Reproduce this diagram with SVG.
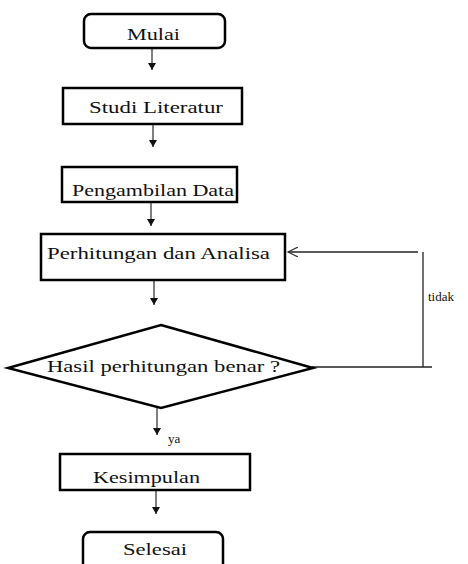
<svg xmlns="http://www.w3.org/2000/svg" width="468" height="564" viewBox="0 0 468 564">
<defs>
<style>
.box{fill:#fff;stroke:#000;stroke-width:2.5}
.t{font-family:"Liberation Serif","DejaVu Serif","Times New Roman",serif;font-size:16px;fill:#111}
.s{font-family:"Liberation Serif","DejaVu Serif","Times New Roman",serif;font-size:13px;fill:#111}
.ln{fill:none;stroke:#555;stroke-width:1.5}
.fb{fill:none;stroke:#222;stroke-width:1.3}
</style>
<marker id="ah" markerWidth="8" markerHeight="8" refX="7" refY="4" orient="auto" markerUnits="userSpaceOnUse">
<path d="M0,0 L7,4 L0,8 Z" fill="#111"/>
</marker>
<marker id="oa" markerWidth="12" markerHeight="10" refX="10" refY="5" orient="auto" markerUnits="userSpaceOnUse">
<path d="M0,0 L10,5 L0,10" fill="none" stroke="#333" stroke-width="1.2"/>
</marker>
</defs>
<rect width="468" height="564" fill="#fff"/>
<g id="connectors">
<line class="ln" x1="152" y1="48" x2="152" y2="70" marker-end="url(#ah)"/>
<line class="ln" x1="153" y1="124" x2="153" y2="147" marker-end="url(#ah)"/>
<line class="ln" x1="151" y1="202" x2="151" y2="226" marker-end="url(#ah)"/>
<line class="ln" x1="154" y1="281" x2="154" y2="305" marker-end="url(#ah)"/>
<line class="ln" x1="157" y1="408" x2="157" y2="435" marker-end="url(#ah)"/>
<line class="ln" x1="156" y1="490" x2="156" y2="514" marker-end="url(#ah)"/>
<line class="fb" x1="312" y1="367" x2="432" y2="367"/>
<line class="fb" x1="423" y1="367" x2="423" y2="252"/>
<line class="fb" x1="418" y1="252" x2="288" y2="252" marker-end="url(#oa)"/>
<text class="s" x="428" y="301">tidak</text>
<text class="s" x="168" y="443">ya</text>
</g>
<g id="mulai">
<rect class="box" x="84" y="14" width="141" height="34" rx="7"/>
<text class="t" x="127" y="40" textLength="53" lengthAdjust="spacingAndGlyphs">Mulai</text>
</g>
<g id="studi">
<rect class="box" x="63" y="88" width="179" height="36"/>
<text class="t" x="89" y="113" textLength="134" lengthAdjust="spacingAndGlyphs">Studi Literatur</text>
</g>
<g id="pengambilan">
<rect class="box" x="62" y="167" width="175" height="35"/>
<text class="t" x="72" y="196" textLength="162" lengthAdjust="spacingAndGlyphs">Pengambilan Data</text>
</g>
<g id="perhitungan">
<rect class="box" x="41" y="234" width="244" height="46"/>
<text class="t" x="47" y="259" textLength="223" lengthAdjust="spacingAndGlyphs">Perhitungan dan Analisa</text>
</g>
<g id="keputusan">
<polygon class="box" points="161,325 313,368 161,408 8,368"/>
<text class="t" x="47" y="372" textLength="233" lengthAdjust="spacingAndGlyphs">Hasil perhitungan benar ?</text>
</g>
<g id="kesimpulan">
<rect class="box" x="60" y="454" width="190" height="36"/>
<text class="t" x="93" y="483" textLength="107" lengthAdjust="spacingAndGlyphs">Kesimpulan</text>
</g>
<g id="selesai">
<rect class="box" x="83" y="532" width="140" height="40" rx="7"/>
<text class="t" x="123" y="555" textLength="64" lengthAdjust="spacingAndGlyphs">Selesai</text>
</g>
</svg>
